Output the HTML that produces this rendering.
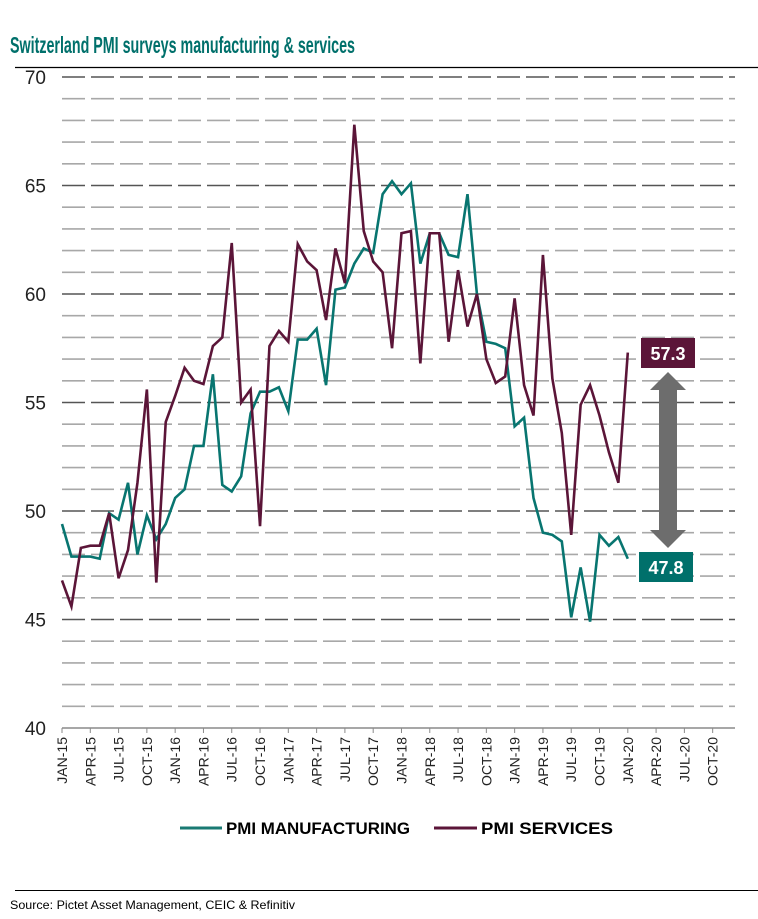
<!DOCTYPE html>
<html><head><meta charset="utf-8"><style>
body{margin:0;background:#fff;width:758px;height:919px;overflow:hidden}
svg{display:block;font-family:"Liberation Sans",sans-serif}
</style></head><body>
<svg id="chart" width="758" height="919">
<text x="10" y="53" font-size="23" font-weight="bold" fill="#00706b" textLength="345" lengthAdjust="spacingAndGlyphs">Switzerland PMI surveys manufacturing &amp; services</text>
<line x1="15" y1="67.5" x2="758" y2="67.5" stroke="#000" stroke-width="1.2"/>
<g id="grid"></g><g id="yl"></g><g id="xl"></g><g id="series"></g>
<g>
<polygon points="668,372 686,390 677,390 677,530 686,530 668,548 650,530 659,530 659,390 650,390" fill="#6d6d6d"/>
</g>
<g><rect x="641" y="338" width="54" height="30" fill="#5b1538"/><text x="668" y="360" font-size="18" font-weight="bold" fill="#fff" text-anchor="middle">57.3</text></g>
<g><rect x="639" y="552" width="54" height="30" fill="#00706b"/><text x="666" y="574" font-size="18" font-weight="bold" fill="#fff" text-anchor="middle">47.8</text></g>
<g>
<line x1="180" y1="828" x2="222" y2="828" stroke="#1a7a73" stroke-width="3"/>
<text x="226" y="834" font-size="17" font-weight="bold" textLength="184" lengthAdjust="spacingAndGlyphs">PMI MANUFACTURING</text>
<line x1="434" y1="828" x2="477" y2="828" stroke="#5b1538" stroke-width="3"/>
<text x="481" y="834" font-size="17" font-weight="bold" textLength="132" lengthAdjust="spacingAndGlyphs">PMI SERVICES</text>
</g>
<line x1="15" y1="890.5" x2="758" y2="890.5" stroke="#000" stroke-width="1"/>
<text x="10" y="909" font-size="12" textLength="285" lengthAdjust="spacingAndGlyphs">Source: Pictet Asset Management, CEIC &amp; Refinitiv</text>
</svg>
<script>
const yTicks=[40,45,50,55,60,65,70];
const xLabels=["JAN-15","APR-15","JUL-15","OCT-15","JAN-16","APR-16","JUL-16","OCT-16","JAN-17","APR-17","JUL-17","OCT-17","JAN-18","APR-18","JUL-18","OCT-18","JAN-19","APR-19","JUL-19","OCT-19","JAN-20","APR-20","JUL-20","OCT-20"];
const manufacturing=[49.4,47.9,47.9,47.9,47.8,49.9,49.6,51.3,48.0,49.8,48.7,49.4,
50.6,51.0,53.0,53.0,56.3,51.2,50.9,51.6,54.5,55.5,55.5,55.7,
54.6,57.9,57.9,58.4,55.8,60.2,60.3,61.4,62.1,61.9,64.6,65.2,
64.6,65.1,61.4,62.8,62.8,61.8,61.7,64.6,60.0,57.8,57.7,57.5,
53.9,54.3,50.6,49.0,48.9,48.6,45.1,47.4,44.9,48.9,48.4,48.8,47.8];
const services=[46.8,45.6,48.3,48.4,48.4,49.9,46.9,48.2,51.3,55.6,46.7,54.1,
55.3,56.6,56.0,55.85,57.6,58.0,62.35,55.0,55.6,49.3,57.6,58.3,
57.8,62.3,61.5,61.1,58.8,62.1,60.5,67.8,62.9,61.5,61.0,57.5,
62.8,62.9,56.8,62.8,62.8,57.8,61.1,58.5,60.0,57.0,55.9,56.2,
59.8,55.8,54.4,61.8,56.1,53.6,48.9,54.9,55.8,54.4,52.7,51.3,57.3];
const NS="http://www.w3.org/2000/svg";
const X0=62,X1=735,MW=9.43;
const xs=i=>X0+i*MW;
const ys=v=>728-(v-40)*21.7;
function mk(t,a,p){const e=document.createElementNS(NS,t);for(const k in a)e.setAttribute(k,a[k]);p.appendChild(e);return e;}
const grid=document.getElementById('grid');
for(let v=41;v<=70;v++){
  const major=v%5===0;
  const l=mk('line',{x1:X0,x2:X1,y1:ys(v),y2:ys(v),stroke:major?'#555':'#a8a8a8','stroke-width':1.6,'stroke-dasharray':'23 6'},grid);
  
  
}
const base=mk('line',{x1:X0,x2:X1,y1:728,y2:728,stroke:'#8a8a8a','stroke-width':1.6},grid);


const yl=document.getElementById('yl');
yTicks.forEach(v=>{
  const t=mk('text',{x:46,y:ys(v)+7,'font-size':19,'text-anchor':'end',fill:'#222'},yl);
  t.textContent=v;
  
  
});
const xl=document.getElementById('xl');
xLabels.forEach((s,i)=>{
  const x=xs(i*3);
  const tk=mk('line',{x1:x,x2:x,y1:728,y2:733,stroke:'#8a8a8a','stroke-width':1},xl);
  
  
  const t=mk('text',{x:0,y:0,'font-size':14,'text-anchor':'end',fill:'#222',transform:`translate(${x+5},737) rotate(-90)`},xl);
  t.textContent=s;
  
  
});
const sg=document.getElementById('series');
function line(arr,col,name){
  const p=mk('polyline',{points:arr.map((v,i)=>xs(i)+','+ys(v)).join(' '),fill:'none',stroke:col,'stroke-width':2.6,'stroke-linejoin':'miter'},sg);
  
  
}
line(manufacturing,'#087570','manufacturing-line');
line(services,'#5b1538','services-line');
</script>
</body></html>
